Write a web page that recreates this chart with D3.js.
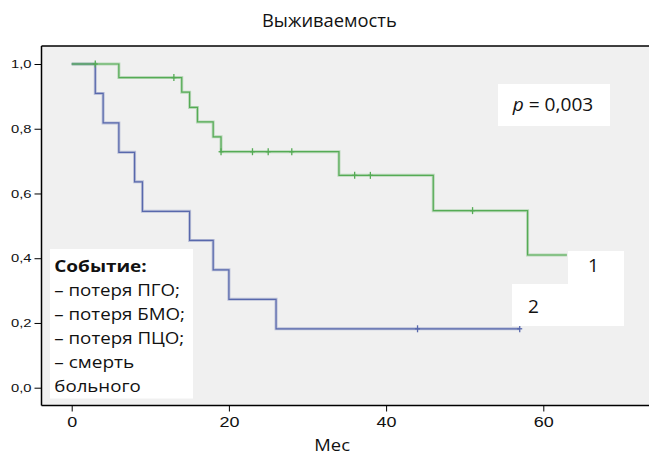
<!DOCTYPE html>
<html><head><meta charset="utf-8">
<script src="https://cdn.jsdelivr.net/npm/d3@7"></script>
<style>body{margin:0;background:#fff}svg{display:block}</style>
</head><body>
<svg id="c" width="649" height="456"></svg>
<script>
// Group 1 (green) step points: [month, survival]
const g1Times = [0, 6, 14, 15, 16, 18, 19, 34, 46, 58];
const g1Surv  = [1.0, 0.958, 0.913, 0.866, 0.821, 0.775, 0.729, 0.656, 0.547, 0.41];
const g1End = 63;
const g1CensorT = [3, 13, 19, 23, 25, 28, 36, 38, 51];
// Group 2 (blue)
const g2Times = [0, 3, 4, 6, 8, 9, 15, 18, 20, 26];
const g2Surv  = [1.0, 0.909, 0.818, 0.727, 0.636, 0.545, 0.455, 0.364, 0.273, 0.182];
const g2End = 57;
const g2CensorT = [44, 57];

const xTicks = [0, 20, 40, 60];
const yTicks = [0, 0.2, 0.4, 0.6, 0.8, 1.0];
const legendTitle = "Событие:";
const legendLines = ["– потеря ПГО;", "– потеря БМО;", "– потеря ПЦО;", "– смерть", "больного"];
const legendWidths = [125.7, 130.7, 130, 80, 86.4];

const svg = d3.select("#c");
const x = d3.scaleLinear().domain([0, 60]).range([71.7, 543.3]);
const y = d3.scaleLinear().domain([0, 1]).range([387.7, 64]);
const L = 41.5, T = 46, R = 649, B = 405.5;

svg.append("rect").attr("x", L).attr("y", T).attr("width", R - L).attr("height", B - T).attr("fill", "#f0f0f0");
svg.append("line").attr("x1", L).attr("x2", R).attr("y1", T).attr("y2", T).attr("stroke", "#000").attr("stroke-width", 1.5);

function survAt(times, surv, t) {
  let v = surv[0];
  for (let i = 0; i < times.length; i++) if (times[i] <= t) v = surv[i];
  return v;
}
function stepPath(times, surv, end) {
  const pts = times.map((t, i) => [t, surv[i]]);
  pts.push([end, surv[surv.length - 1]]);
  return d3.line().x(d => x(d[0])).y(d => y(d[1])).curve(d3.curveStepAfter)(pts);
}
const GREEN = "#55ab55", BLUE = "#5868ac";
function drawGroup(times, surv, end, cens, col) {
  svg.append("path").attr("d", stepPath(times, surv, end)).attr("fill", "none")
    .attr("stroke", col).attr("stroke-opacity", 0.35).attr("stroke-width", 3);
  svg.append("path").attr("d", stepPath(times, surv, end)).attr("fill", "none")
    .attr("stroke", col).attr("stroke-width", 1.2);
  cens.forEach(t => {
    const cx = x(t), cy = y(survAt(times, surv, t));
    svg.append("line").attr("x1", cx).attr("x2", cx).attr("y1", cy - 3.5).attr("y2", cy + 3.5).attr("stroke", col).attr("stroke-width", 1.3);
    svg.append("line").attr("x1", cx - 2.5).attr("x2", cx + 2.5).attr("y1", cy).attr("y2", cy).attr("stroke", col).attr("stroke-width", 1.3);
  });
}
drawGroup(g2Times, g2Surv, g2End, g2CensorT, BLUE);
drawGroup(g1Times, g1Surv, g1End, g1CensorT, GREEN);

// axes
const xAxis = svg.append("g").attr("transform", `translate(0,${B})`)
  .call(d3.axisBottom(x).tickValues(xTicks).tickSize(6).tickSizeOuter(0).tickFormat(d3.format("d")));
xAxis.select(".domain").attr("d", `M${L},0H${R}`).attr("stroke-width", 1.5);
xAxis.selectAll("text").attr("font-family", "Liberation Sans, Arial, sans-serif").attr("font-size", 14).attr("fill", "#111").attr("dy", "0.9em")
  .attr("textLength", d => String(d).length * 10).attr("lengthAdjust", "spacingAndGlyphs");
const yAxis = svg.append("g").attr("transform", `translate(${L},0)`)
  .call(d3.axisLeft(y).tickValues(yTicks).tickSize(7).tickSizeOuter(0).tickFormat(d => d3.format(".1f")(d).replace(".", ",")));
yAxis.select(".domain").attr("d", `M0,${T}V${B}`).attr("stroke-width", 1.5);
yAxis.selectAll("text").attr("font-family", "Liberation Sans, Arial, sans-serif").attr("font-size", 11).attr("fill", "#111")
  .attr("x", -10).attr("textLength", 20.5).attr("lengthAdjust", "spacingAndGlyphs");

// helper for text with fixed width
const F = "'Open Sans', 'Noto Sans', sans-serif";
function txt(s, xx, yy, size, w, anchor, bold) {
  return svg.append("text").attr("x", xx).attr("y", yy).attr("text-anchor", anchor || "start")
    .attr("font-family", F).attr("font-size", size).attr("font-weight", bold ? "bold" : "normal")
    .attr("fill", "#111").attr("textLength", w).attr("lengthAdjust", "spacingAndGlyphs").text(s);
}
txt("Выживаемость", 262, 26.5, 18.5, 134.7);
txt("Мес", 314.3, 450.5, 17, 35.7);

// p-value box
svg.append("rect").attr("x", 498).attr("y", 84).attr("width", 112).attr("height", 42).attr("fill", "#fff");
const pt = svg.append("text").attr("x", 512.7).attr("y", 111).attr("font-family", F).attr("font-size", 19).attr("fill", "#111")
  .attr("textLength", 80.6).attr("lengthAdjust", "spacingAndGlyphs");
pt.append("tspan").attr("font-style", "italic").text("p");
pt.append("tspan").text(" = 0,003");

// curve labels
svg.append("rect").attr("x", 568).attr("y", 251).attr("width", 56).attr("height", 34).attr("fill", "#fff");
svg.append("rect").attr("x", 512).attr("y", 284).attr("width", 112).attr("height", 42).attr("fill", "#fff");
svg.append("text").attr("x", 593.5).attr("y", 271.5).attr("text-anchor", "middle").attr("font-family", F).attr("font-size", 19).attr("fill", "#111").text("1");
svg.append("text").attr("x", 533.5).attr("y", 312.5).attr("text-anchor", "middle").attr("font-family", F).attr("font-size", 19).attr("fill", "#111").text("2");

// event legend box
svg.append("rect").attr("x", 50).attr("y", 249).attr("width", 143).attr("height", 149.5).attr("fill", "#fff");
txt(legendTitle, 54.3, 272, 16, 92.4, "start", true);
legendLines.forEach((s, i) => txt(s, 54.3, 296 + i * 23.9, 16, legendWidths[i]));
</script>
</body></html>
